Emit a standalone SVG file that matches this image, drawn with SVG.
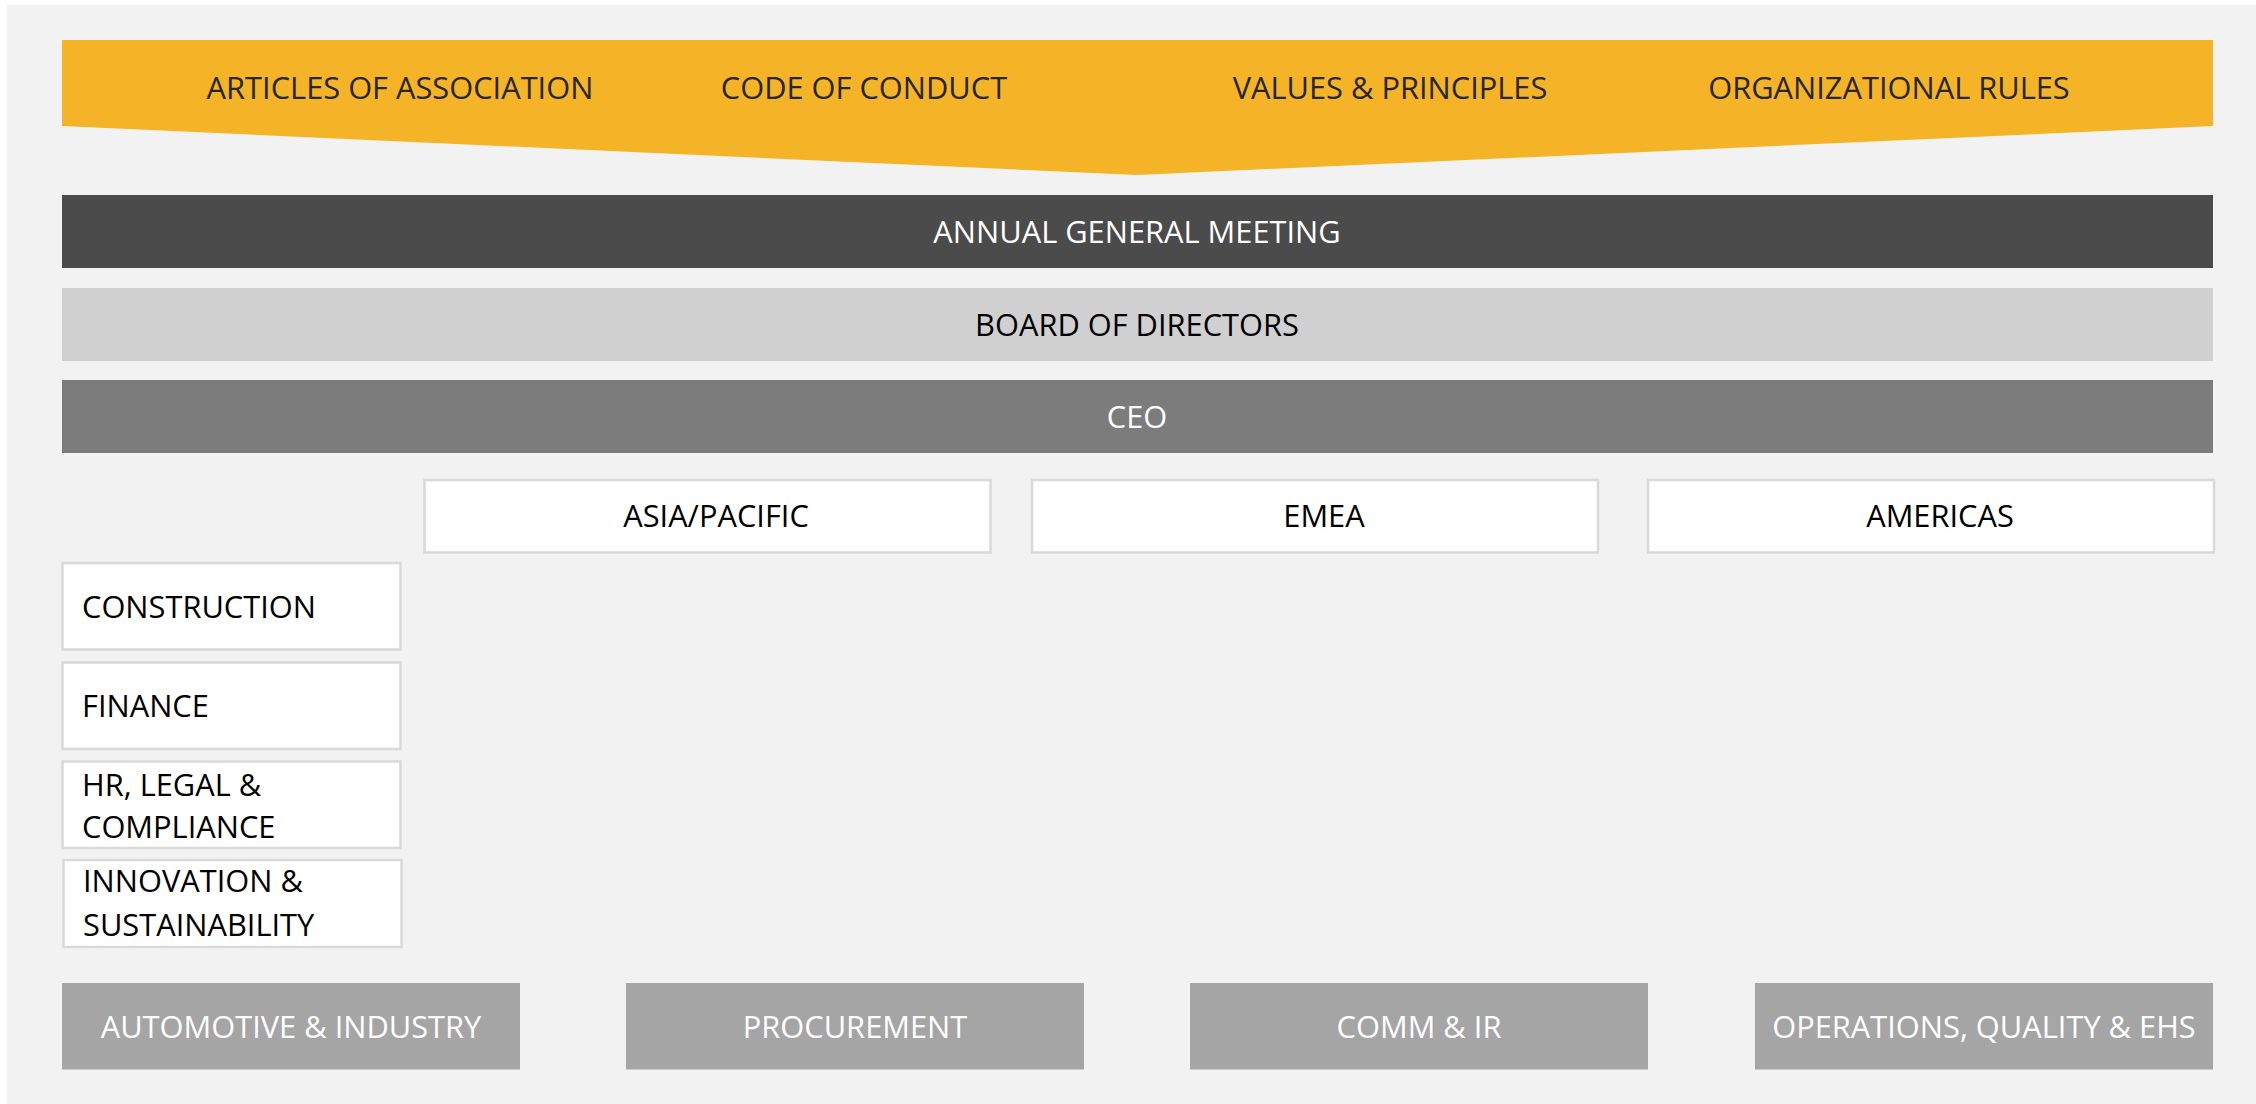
<svg xmlns="http://www.w3.org/2000/svg" width="2256" height="1104" viewBox="0 0 2256 1104">
<style>
text{font-family:"Open Sans","Liberation Sans",sans-serif;font-size:30.8px}
.c{text-anchor:middle}
.dk{fill:#262626}
.bk{fill:#000}
.wh{fill:#fff}
.box{fill:#fff;stroke:#d9d9d9;stroke-width:2.5}
.bot{fill:#a5a5a5}
</style>
<rect x="0" y="0" width="2256" height="1104" fill="#ffffff"/>
<rect x="7" y="5" width="2249" height="1099" fill="#f2f2f2"/>
<g id="banner">
<polygon points="62,40 2213,40 2213,126 1137,175 62,126" fill="#f5b327"/>
<text class="c dk" x="400" y="99">ARTICLES OF ASSOCIATION</text>
<text class="c dk" x="864" y="99">CODE OF CONDUCT</text>
<text class="c dk" x="1390" y="99">VALUES &amp; PRINCIPLES</text>
<text class="c dk" x="1889" y="99">ORGANIZATIONAL RULES</text>
</g>
<g id="agm">
<rect x="62" y="195" width="2151" height="73" fill="#4b4b4b"/>
<text class="c wh" x="1137" y="242.5">ANNUAL GENERAL MEETING</text>
</g>
<g id="board">
<rect x="62" y="288" width="2151" height="73" fill="#d0d0d0"/>
<text class="c bk" x="1137" y="335.5">BOARD OF DIRECTORS</text>
</g>
<g id="ceo">
<rect x="62" y="380" width="2151" height="73" fill="#7c7c7c"/>
<text class="c wh" x="1137" y="427.5">CEO</text>
</g>
<g id="asia">
<rect class="box" x="424.5" y="480" width="566" height="72.5"/>
<text class="c bk" x="716" y="527">ASIA/PACIFIC</text>
</g>
<g id="emea">
<rect class="box" x="1032" y="480" width="566" height="72.5"/>
<text class="c bk" x="1324" y="527">EMEA</text>
</g>
<g id="americas">
<rect class="box" x="1648" y="480" width="566" height="72.5"/>
<text class="c bk" x="1940" y="527">AMERICAS</text>
</g>
<g id="construction">
<rect class="box" x="62.5" y="563" width="338" height="86.5"/>
<text class="bk" x="82" y="618">CONSTRUCTION</text>
</g>
<g id="finance">
<rect class="box" x="62.5" y="662.5" width="338" height="86.5"/>
<text class="bk" x="82" y="717">FINANCE</text>
</g>
<g id="hr">
<rect class="box" x="62.5" y="761.5" width="338" height="86.5"/>
<text class="bk" x="82" y="795.5">HR, LEGAL &amp;</text>
<text class="bk" x="82" y="838">COMPLIANCE</text>
</g>
<g id="innovation">
<rect class="box" x="63.5" y="860" width="338" height="87"/>
<text class="bk" x="83" y="891.5">INNOVATION &amp;</text>
<text class="bk" x="83" y="936">SUSTAINABILITY</text>
</g>
<g id="automotive">
<rect class="bot" x="62" y="983" width="458" height="86.5"/>
<text class="c wh" x="291" y="1037.5">AUTOMOTIVE &amp; INDUSTRY</text>
</g>
<g id="procurement">
<rect class="bot" x="626" y="983" width="458" height="86.5"/>
<text class="c wh" x="855" y="1037.5">PROCUREMENT</text>
</g>
<g id="comm">
<rect class="bot" x="1190" y="983" width="458" height="86.5"/>
<text class="c wh" x="1419" y="1037.5">COMM &amp; IR</text>
</g>
<g id="operations">
<rect class="bot" x="1755" y="983" width="458" height="86.5"/>
<text class="c wh" x="1984" y="1037.5">OPERATIONS, QUALITY &amp; EHS</text>
</g>
<g id="connectors"></g>
</svg>
